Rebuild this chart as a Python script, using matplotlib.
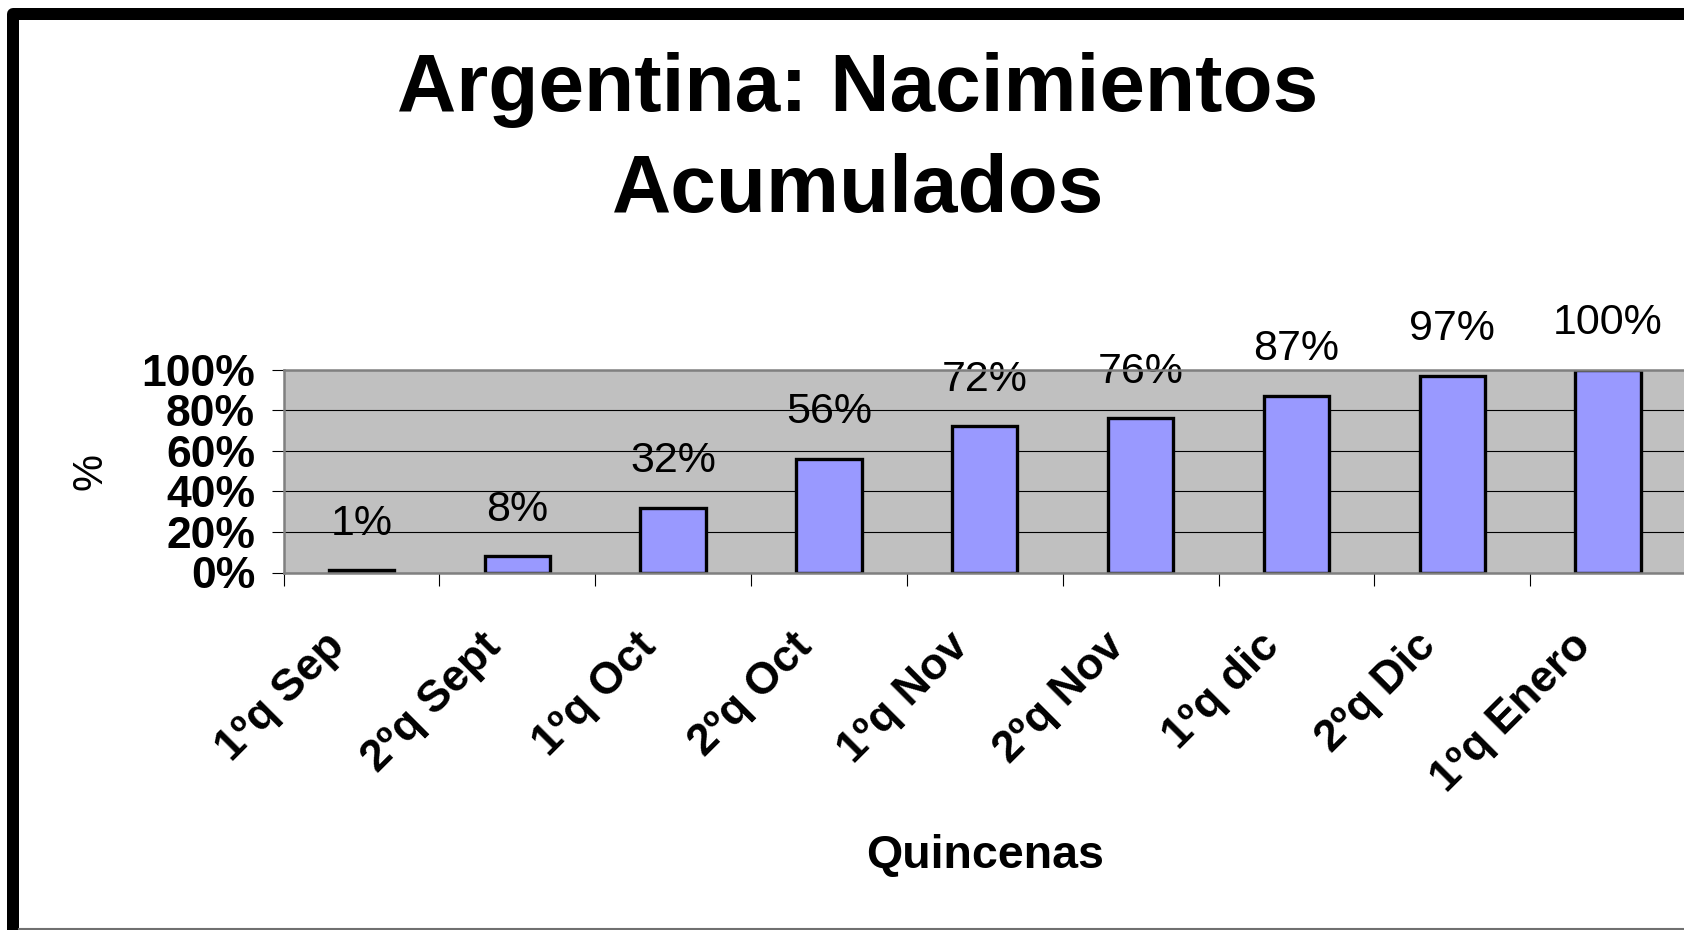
import matplotlib
matplotlib.use("Agg")
import matplotlib.pyplot as plt
from matplotlib.patches import Rectangle
from matplotlib.lines import Line2D
from matplotlib.transforms import ScaledTranslation

plt.rcParams['font.family'] = ['Liberation Sans', 'DejaVu Sans']

# ---- data ----
categories = ["1ºq Sep", "2ºq Sept", "1ºq Oct", "2ºq Oct", "1ºq Nov",
              "2ºq Nov", "1ºq dic", "2ºq Dic", "1ºq Enero"]
values = [1, 8, 32, 56, 72, 76, 87, 97, 100]
ytick_values = [0, 20, 40, 60, 80, 100]
ytick_labels = ["0%", "20%", "40%", "60%", "80%", "100%"]
title_line1 = "Argentina: Nacimientos"
title_line2 = "Acumulados"
xlabel = "Quincenas"
ylabel = "%"

W, H = 1684, 930
fig = plt.figure(figsize=(W / 100, H / 100), dpi=100)
fig.patch.set_facecolor('white')

# axes placement (pixels -> fractions)
left_px, right_px = 283.5, 1686
top_px, bottom_px = 369.5, 572.5
ax = fig.add_axes([left_px / W, 1 - bottom_px / H,
                   (right_px - left_px) / W, (bottom_px - top_px) / H])
ax.set_facecolor('#C0C0C0')

x = list(range(len(categories)))
ax.bar(x, values, width=0.42, color='#9999FF', edgecolor='black',
       linewidth=2.4, zorder=2)

ax.set_xlim(-0.5, len(categories) - 0.5)
ax.set_ylim(0, 100)

# grid
ax.set_axisbelow(True)
ax.yaxis.grid(True, color='black', linewidth=0.8)
ax.xaxis.grid(False)

# spines
for s in ['left', 'bottom', 'top']:
    ax.spines[s].set_color('#808080')
    ax.spines[s].set_linewidth(1.8)
    ax.spines[s].set_zorder(3)
ax.spines['right'].set_visible(False)

# y ticks
ax.set_yticks(ytick_values)
ax.set_yticklabels(ytick_labels, fontsize=32, fontweight='bold')
ax.tick_params(axis='y', length=8.5, width=0.8, color='black', pad=12)

# x ticks: boundaries as minor ticks, labels at centers
ax.set_xticks([i - 0.5 for i in range(len(categories) + 1)], minor=True)
ax.set_xticks(x)
ax.set_xticklabels(categories, fontsize=32, fontweight='bold',
                   rotation=45, ha='right', va='center', rotation_mode='anchor')
ax.tick_params(axis='x', which='major', length=0, pad=48.5)
ax.tick_params(axis='x', which='minor', length=9.5, width=0.8, color='black')
shift = ScaledTranslation(-0.23, 0, fig.dpi_scale_trans)
for lab in ax.get_xticklabels():
    lab.set_transform(lab.get_transform() + shift)

# value labels
for xi, v in zip(x, values):
    ax.annotate(f"{v}%", (xi, v), xytext=(0, 25.5), textcoords='offset points',
                ha='center', va='baseline', fontsize=31, annotation_clip=False)

# axis labels
ax.set_xlabel(xlabel, fontsize=33.5, fontweight='bold')
ax.xaxis.set_label_coords(0.5, (bottom_px - 868) / (bottom_px - top_px))
ax.xaxis.label.set_va('baseline')
ax.set_ylabel(ylabel, fontsize=30)
ax.yaxis.set_label_coords((91 - left_px) / (right_px - left_px), 0.5)
ax.yaxis.label.set_va('center')

# title
fig.text(858 / W, 1 - 111 / H, title_line1, ha='center', va='baseline',
         fontsize=59, fontweight='bold')
fig.text(858 / W, 1 - 212 / H, title_line2, ha='center', va='baseline',
         fontsize=59, fontweight='bold')

# chart frame
fig.patches.append(Rectangle((13 / W, -0.1), 1.2, (1 - 14.5 / H) + 0.1,
                             transform=fig.transFigure, fill=False,
                             linewidth=12 * 0.72, edgecolor='black',
                             joinstyle='round'))
fig.lines.append(Line2D([19 / W, 1], [1.2 / H, 1.2 / H], transform=fig.transFigure,
                        color='#707070', linewidth=1.5))

fig.savefig("out.png", dpi=100)
